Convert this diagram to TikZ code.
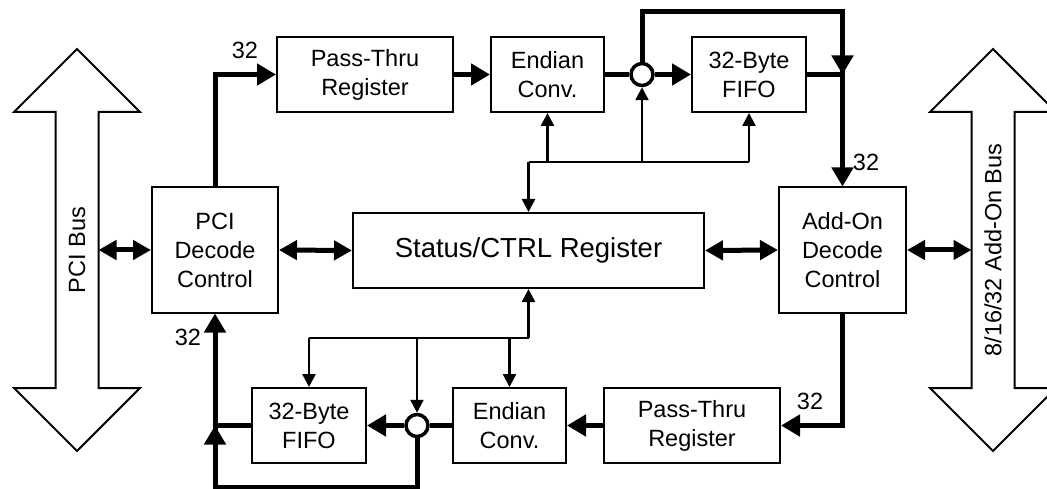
\documentclass[tikz,border=0pt]{standalone}
\usepackage{fontspec}
\setmainfont{Liberation Sans}
\usetikzlibrary{arrows.meta}
\newcommand\lblfont{\fontsize{23.5}{29}\selectfont}
\newcommand\bigfont{\fontsize{27.5}{32}\selectfont}
\tikzset{
  box/.style={draw, line width=2pt, align=center, font=\lblfont, inner sep=0pt},
  junc/.style={draw, circle, line width=3.5pt, fill=white, minimum size=22pt, inner sep=0pt},
  bus/.style={draw, line width=2pt, line join=miter},
  thk/.style={line width=5pt},
  tln/.style={line width=2.5pt},
  tarr/.style={line width=2.5pt, -{Triangle[length=13pt,width=13pt]}},
  karr/.style={line width=5pt, -{Triangle[length=19pt,width=21pt]}},
  darr/.style={line width=5pt, {Triangle[length=18pt,width=19pt]}-{Triangle[length=18pt,width=19pt]}},
  lab/.style={font=\lblfont, inner sep=0pt},
}
\begin{document}
\begin{tikzpicture}[x=1pt, y=-1pt]
\useasboundingbox (0,0) rectangle (1047,489);
% buses
\draw[bus] (77,49) -- (140,112) -- (98.5,112) -- (98.5,388) -- (140,388) -- (77,451) -- (14,388) -- (55.5,388) -- (55.5,112) -- (14,112) -- cycle;
\draw[bus] (993,49) -- (1056,112) -- (1014.5,112) -- (1014.5,388) -- (1056,388) -- (993,451) -- (930,388) -- (971.5,388) -- (971.5,112) -- (930,112) -- cycle;
\node[lab, rotate=90] (pcibus) at (77,250) {PCI Bus};
\node[lab, rotate=90] (addbus) at (993,250) {8/16/32 Add-On Bus};
\coordinate (lbus) at (98.5,250);
\coordinate (rbus) at (971.5,250);
% boxes
\node[box, minimum width=126pt, minimum height=125pt] (pci) at (215,250) {PCI\\Decode\\Control};
\node[box, minimum width=127pt, minimum height=125pt] (addon) at (842.5,250) {Add-On\\Decode\\Control};
\node[box, minimum width=351pt, minimum height=75pt, font=\bigfont] (stat) at (528.5,250.5) {Status/CTRL Register};
\node[box, minimum width=176pt, minimum height=75pt] (ptt) at (365,74.5) {Pass-Thru\\Register};
\node[box, minimum width=113pt, minimum height=75pt] (ent) at (547.5,74.5) {Endian\\Conv.};
\node[box, minimum width=114pt, minimum height=75pt] (fifot) at (749,74.5) {32-Byte\\FIFO};
\node[box, minimum width=176pt, minimum height=75pt] (ptb) at (692,425.5) {Pass-Thru\\Register};
\node[box, minimum width=113pt, minimum height=75pt] (enb) at (509.5,425.5) {Endian\\Conv.};
\node[box, minimum width=114pt, minimum height=75pt] (fifob) at (309,425.5) {32-Byte\\FIFO};
\node[junc] (ct) at (642,74.5) {};
\node[junc] (cb) at (417,425.5) {};
% labels
\node[lab] (l1) at (245,50) {32};
\node[lab] (l2) at (866,162) {32};
\node[lab] (l3) at (810,401) {32};
\node[lab] (l4) at (188,337) {32};
% double arrows
\draw[darr] (lbus) -- (pci.west);
\draw[darr] (pci.east) -- (stat.west);
\draw[darr] (stat.east) -- (addon.west);
\draw[darr] (addon.east) -- (rbus);
% top data path
\draw[karr] (pci.north) |- (ptt.west);
\draw[karr] (ptt.east) -- (ent.west);
\draw[thk] (ent.east) -- (ct.west);
\draw[karr] (ct.east) -- (fifot.west);
\coordinate (jt) at (addon.north |- fifot.east);
\coordinate (tt) at (addon.north |- 0,12);
\draw[thk, line join=miter] (ct.north) |- (tt) -- (jt);
\draw[karr] (tt) -- (jt);
\draw[thk] (fifot.east) -- (jt);
\draw[karr] (jt) -- (addon.north);
% top control
\coordinate (hs) at (stat.north |- 0,162);
\draw[tln] (hs) -- (fifot.south |- hs);
\draw[tarr] (hs) -- (stat.north);
\draw[tarr] (ent.south |- hs) -- (ent.south);
\draw[tarr] (ct.south |- hs) -- (ct.south);
\draw[tarr] (fifot.south |- hs) -- (fifot.south);
% bottom data path
\draw[karr, line join=miter] (addon.south) |- (ptb.east);
\draw[karr] (ptb.west) -- (enb.east);
\draw[thk] (enb.west) -- (cb.east);
\draw[karr] (cb.west) -- (fifob.east);
\coordinate (jb) at (pci.south |- fifob.west);
\coordinate (bb) at (pci.south |- 0,487);
\draw[thk, line join=miter] (cb.south) |- (bb) -- (jb);
\draw[karr] (bb) -- (jb);
\draw[thk] (fifob.west) -- (jb);
\draw[karr] (jb) -- (pci.south);
% bottom control
\coordinate (hb) at (stat.south |- 0,338);
\draw[tln] (hb) -- (fifob.north |- hb);
\draw[tarr] (hb) -- (stat.south);
\draw[tarr] (enb.north |- hb) -- (enb.north);
\draw[tarr] (cb.north |- hb) -- (cb.north);
\draw[tarr] (fifob.north |- hb) -- (fifob.north);
\end{tikzpicture}
\end{document}
